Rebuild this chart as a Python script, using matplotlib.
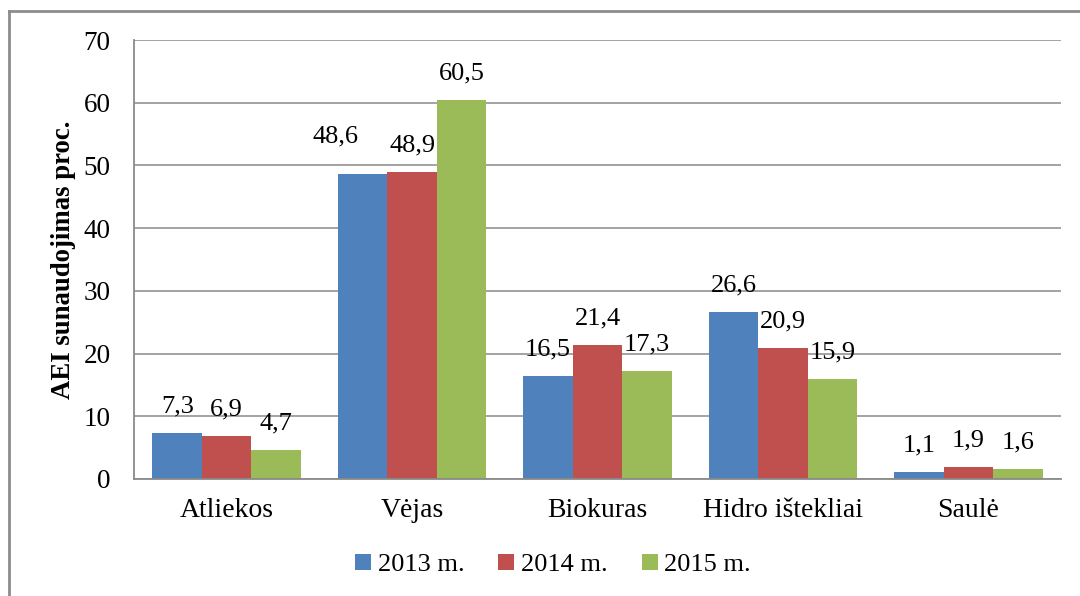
import numpy as np
import matplotlib.pyplot as plt
from matplotlib.lines import Line2D

plt.rcParams['font.family'] = ['Liberation Serif', 'DejaVu Serif']

kategorijos = ['Atliekos', 'Vėjas', 'Biokuras', 'Hidro ištekliai', 'Saulė']
metai = ['2013 m.', '2014 m.', '2015 m.']
v2013 = [7.3, 48.6, 16.5, 26.6, 1.1]
v2014 = [6.9, 48.9, 21.4, 20.9, 1.9]
v2015 = [4.7, 60.5, 17.3, 15.9, 1.6]
spalvos = ['#4F81BD', '#C0504D', '#9BBB59']

fig = plt.figure(figsize=[10.8, 5.96], dpi=100, facecolor='w')
ax = fig.add_axes([134/1080, 1-479/596, 927/1080, 439/596])

x = np.arange(len(kategorijos))
w = 0.267
for k, (vals, c) in enumerate(zip([v2013, v2014, v2015], spalvos)):
    xs = x + (k-1)*w
    ax.bar(xs, vals, width=w, color=c, label=metai[k], zorder=3)
    for i, (xx, v) in enumerate(zip(xs, vals)):
        dx = -19.5 if (k == 0 and i == 1) else 0  # perkelta etiketė kaip originale
        dy = 27 if (k == 0 and i == 1) else 19
        ax.annotate(('%.1f' % v).replace('.', ','), (xx, v), xytext=(dx, dy),
                    textcoords='offset points', ha='center', va='center',
                    fontsize=19, zorder=4)

ax.set_xlim(-0.5, 4.5)
ax.set_ylim(0, 70)
ax.set_yticks(range(0, 71, 10))
ax.set_xticks(x)
ax.set_xticklabels(kategorijos, fontsize=20)
ax.tick_params(axis='y', labelsize=19.5, length=0, pad=17)
ax.tick_params(axis='x', length=0, pad=14)
ax.grid(axis='y', color='#8a8a8a', lw=1.1, zorder=0)
for s in ['top', 'right']:
    ax.spines[s].set_visible(False)
for s in ['left', 'bottom']:
    ax.spines[s].set_color('#8a8a8a')
    ax.spines[s].set_linewidth(1.3)
    ax.spines[s].set_zorder(5)
ax.set_ylabel('AEI sunaudojimas proc.', fontsize=19.3, fontweight='bold')
ax.yaxis.set_label_coords(-0.063, 0.5)

ax.legend(loc='center', bbox_to_anchor=(553/1080, 1-565/596), bbox_transform=fig.transFigure,
          ncol=3, frameon=False, fontsize=19, handlelength=0.6, handleheight=0.6,
          handletextpad=0.25, columnspacing=1.3)

# rėmelis aplink diagramą
fig.add_artist(Line2D([9/1080, 9/1080], [0, 1-11/596], color='#8c8c8c', lw=2))
fig.add_artist(Line2D([9/1080, 1], [1-11/596, 1-11/596], color='#8c8c8c', lw=2))

plt.savefig('out.png', dpi=100, facecolor='w')
